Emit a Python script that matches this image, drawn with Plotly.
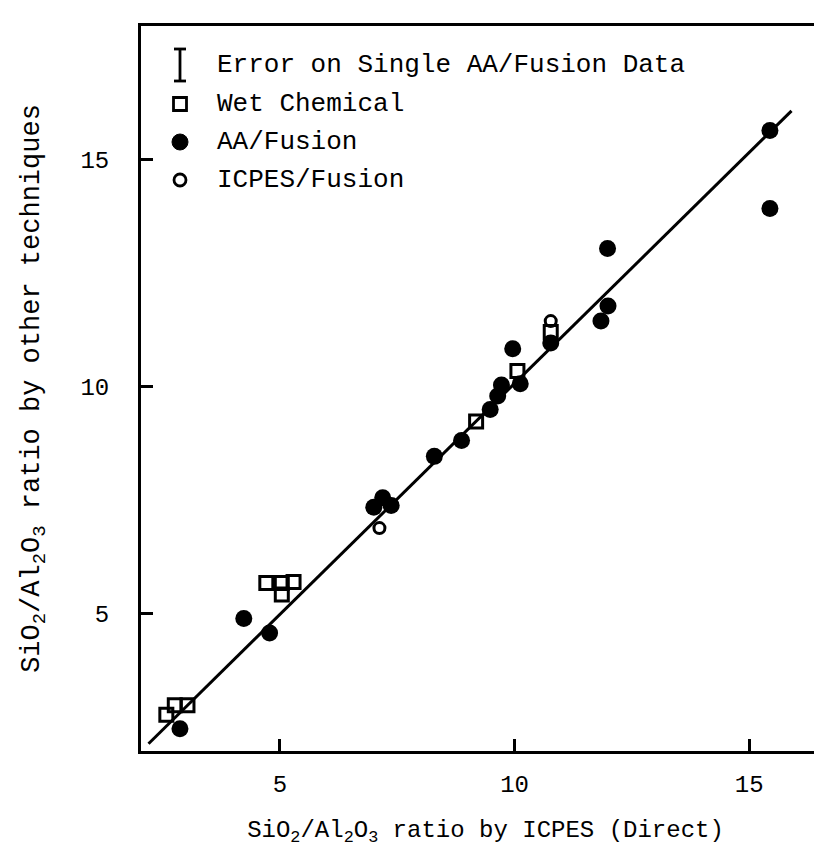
import plotly.graph_objects as go

# ---- data ----
wet_x = [2.58, 2.76, 3.03, 4.71, 5.04, 5.29, 5.04, 9.18, 10.06, 10.77]
wet_y = [2.78, 2.99, 2.99, 5.68, 5.68, 5.70, 5.43, 9.24, 10.35, 11.21]

aa_x = [2.87, 4.23, 4.78, 7.00, 7.19, 7.37, 8.29, 8.87, 9.48, 9.64, 9.72,
        9.96, 10.12, 10.77, 11.84, 11.99, 11.98, 15.44, 15.44]
aa_y = [2.47, 4.90, 4.58, 7.35, 7.56, 7.39, 8.47, 8.82, 9.50, 9.80, 10.04,
        10.84, 10.07, 10.97, 11.45, 11.78, 13.05, 15.65, 13.93]

icp_x = [7.12, 10.77]
icp_y = [6.89, 11.45]

fit_x = [2.20, 15.90]
fit_y = [2.14, 16.08]

x_ticks = [5, 10, 15]
y_ticks = [5, 10, 15]

legend_labels = ["Error on Single AA/Fusion Data", "Wet Chemical",
                 "AA/Fusion", "ICPES/Fusion"]

FONT = "Liberation Mono"
W, H = 822, 858
ML, MR, MT, MB = 133, 0, 18, 115
PW, PH = W - ML - MR, H - MT - MB


def px(xp):
    return (xp - ML) / PW


def py(yp):
    return (H - MB - yp) / PH


fig = go.Figure()
fig.add_trace(go.Scatter(x=fit_x, y=fit_y, mode="lines",
                         line=dict(color="black", width=3), showlegend=False))
fig.add_trace(go.Scatter(x=wet_x, y=wet_y, mode="markers", name=legend_labels[1],
                         marker=dict(symbol="square-open", size=13, color="black",
                                     line=dict(width=3, color="black")),
                         showlegend=False))
fig.add_trace(go.Scatter(x=aa_x, y=aa_y, mode="markers", name=legend_labels[2],
                         marker=dict(symbol="circle", size=17, color="black"),
                         showlegend=False))
fig.add_trace(go.Scatter(x=icp_x, y=icp_y, mode="markers", name=legend_labels[3],
                         marker=dict(symbol="circle-open", size=11, color="black",
                                     line=dict(width=3, color="black")),
                         showlegend=False))

# ---- hand-made key (shapes + text, in paper coordinates) ----
shapes = []
lw = 2.8
sx = 172
row_y = [57, 96, 134, 172]
# error bar glyph
shapes.append(dict(type="line", xref="paper", yref="paper", x0=px(sx), x1=px(sx),
                   y0=py(row_y[0] - 16), y1=py(row_y[0] + 16), line=dict(color="black", width=lw)))
for dy in (-16, 16):
    shapes.append(dict(type="line", xref="paper", yref="paper", x0=px(sx - 6), x1=px(sx + 6),
                       y0=py(row_y[0] + dy), y1=py(row_y[0] + dy), line=dict(color="black", width=lw)))
# open square
shapes.append(dict(type="rect", xref="paper", yref="paper", x0=px(sx - 6.5), x1=px(sx + 6.5),
                   y0=py(row_y[1] - 6.5), y1=py(row_y[1] + 6.5), line=dict(color="black", width=lw)))
# filled circle
shapes.append(dict(type="circle", xref="paper", yref="paper", x0=px(sx - 8), x1=px(sx + 8),
                   y0=py(row_y[2] - 8), y1=py(row_y[2] + 8), fillcolor="black",
                   line=dict(color="black", width=1)))
# open circle
shapes.append(dict(type="circle", xref="paper", yref="paper", x0=px(sx - 6), x1=px(sx + 6),
                   y0=py(row_y[3] - 6), y1=py(row_y[3] + 6),
                   line=dict(color="black", width=lw)))

annotations = []
for lab, yy in zip(legend_labels, row_y):
    annotations.append(dict(text=lab, xref="paper", yref="paper", x=px(207), y=py(yy),
                            xanchor="left", yanchor="middle", showarrow=False,
                            font=dict(family=FONT, size=26, color="black")))

fig.update_layout(
    width=W, height=H,
    margin=dict(l=ML, r=MR, t=MT, b=MB),
    paper_bgcolor="white", plot_bgcolor="white",
    showlegend=False,
    shapes=shapes, annotations=annotations,
    font=dict(family=FONT, color="black", size=24),
)
fig.update_xaxes(
    range=[2.04, 16.72], tickvals=x_ticks, ticktext=[str(v) for v in x_ticks],
    ticks="inside", ticklen=12, tickwidth=2.5, tickcolor="black",
    showline=True, linewidth=3, linecolor="black", mirror=True,
    showgrid=False, zeroline=False,
    tickfont=dict(family=FONT, size=24), ticklabelstandoff=9,
    title=dict(text="SiO<sub>2</sub>/Al<sub>2</sub>O<sub>3</sub> ratio by ICPES (Direct)",
               font=dict(family=FONT, size=24), standoff=23),
)
fig.update_yaxes(
    range=[1.98, 17.95], tickvals=y_ticks, ticktext=[str(v) for v in y_ticks],
    ticks="inside", ticklen=12, tickwidth=2.5, tickcolor="black",
    showline=True, linewidth=3, linecolor="black", mirror=False,
    showgrid=False, zeroline=False,
    tickfont=dict(family=FONT, size=24), ticklabelstandoff=24,
    title=dict(text="SiO<sub>2</sub>/Al<sub>2</sub>O<sub>3</sub> ratio by other techniques",
               font=dict(family=FONT, size=27), standoff=33),
)

fig.write_html("out.html")
